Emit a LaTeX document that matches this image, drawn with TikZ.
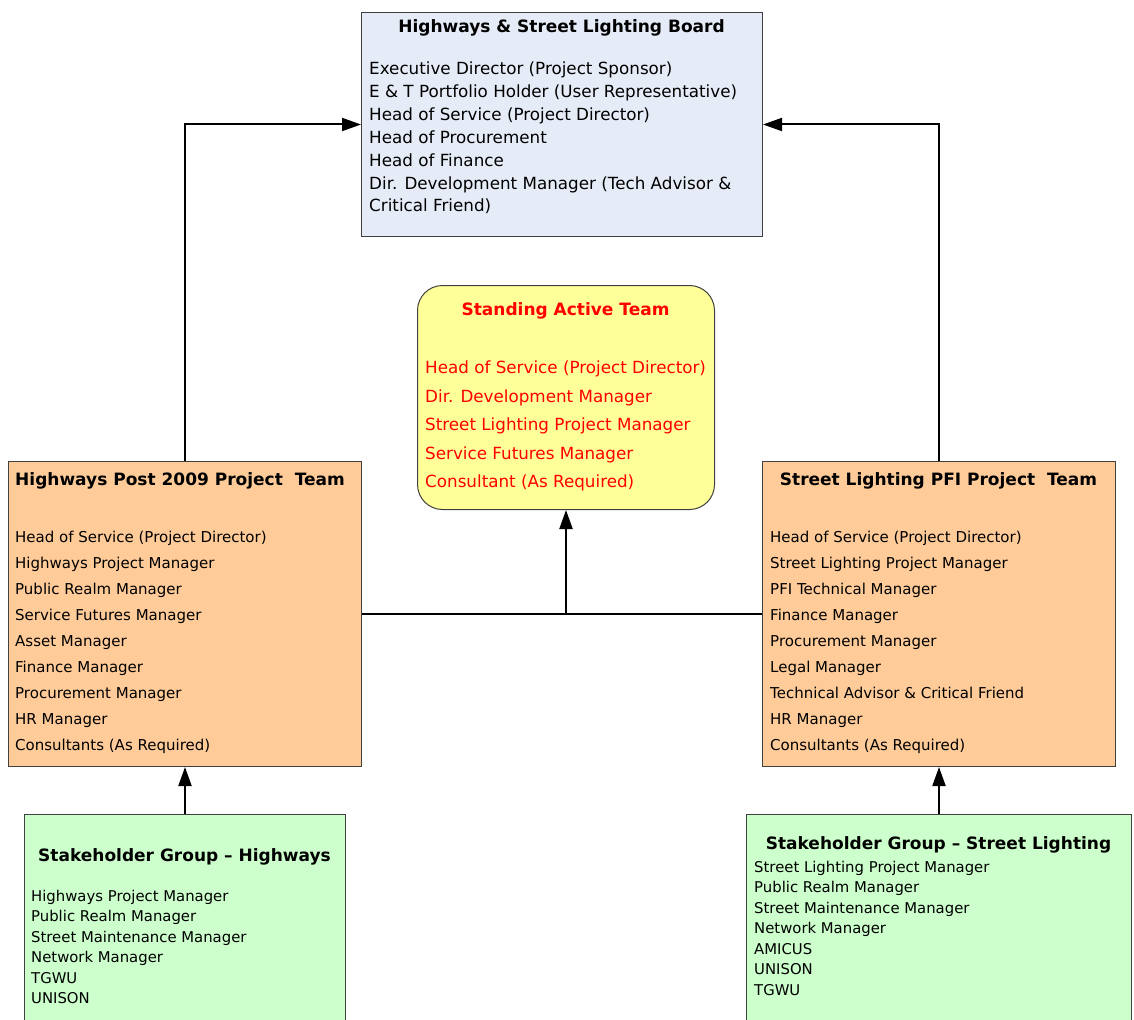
\documentclass[tikz,border=0pt]{standalone}
\usepackage{fontspec}
\setmainfont{DejaVu Sans}
\usepackage{xcolor}
\usetikzlibrary{arrows.meta, positioning}

\definecolor{boardblue}{HTML}{E6ECF7}
\definecolor{teampeach}{HTML}{FFCC99}
\definecolor{activeyellow}{HTML}{FFFF99}
\definecolor{stakegreen}{HTML}{CCFFCC}

\begin{document}
\begin{tikzpicture}[
    x=1pt, y=-1pt,
    box/.style={rectangle, draw=black!75, line width=1pt, anchor=north west, inner sep=0pt},
    heading/.style={inner sep=0pt, font=\fontsize{17}{20}\selectfont\bfseries},
    biglist/.style={align=left, inner sep=0pt, anchor=north west},
    smalllist/.style={align=left, inner sep=0pt, anchor=north west},
    arr/.style={-{Triangle[length=19pt, width=13pt]}, line width=2pt}
]
\useasboundingbox (0,0) rectangle (1134,1019);
\clip (0,0) rectangle (1134,1019);

% boxes
\node[box, fill=boardblue, minimum width=401pt, minimum height=224pt] (board) at (361,12) {};
\node[box, fill=activeyellow, rounded corners=25pt, minimum width=297pt, minimum height=224pt] (active) at (417,285) {};
\node[box, fill=teampeach, minimum width=353pt, minimum height=305pt] (hteam) at (8,461) {};
\node[box, fill=teampeach, minimum width=353pt, minimum height=305pt] (steam) at (762,461) {};
\node[box, fill=stakegreen, minimum width=321pt, minimum height=240pt] (hstake) at (24,814) {};
\node[box, fill=stakegreen, minimum width=385pt, minimum height=240pt] (sstake) at (746,814) {};

% headings
\node[heading] (boardtitle) at (561.5,28) {Highways \& Street Lighting Board};
\node[heading, text=red] (activetitle) at (565.5,311) {Standing Active Team};
\node[heading, anchor=west] (hteamtitle) at (15,481) {Highways Post 2009 Project\ \ Team};
\node[heading] (steamtitle) at (938.5,481) {Street Lighting PFI Project\ \ Team};
\node[heading] (hstaketitle) at (184.5,857) {Stakeholder Group -- Highways};
\node[heading] (sstaketitle) at (938.5,845) {Stakeholder Group -- Street Lighting};

% member lists
\node[biglist, font=\fontsize{16.75}{22.83}\selectfont] (boardlist) at (369,62) {Executive Director (Project Sponsor)\\
E \& T Portfolio Holder (User Representative)\\
Head of Service (Project Director)\\
Head of Procurement\\
Head of Finance\\
Dir. Development Manager (Tech Advisor \&\\
Critical Friend)};
\node[biglist, text=red, font=\fontsize{16.75}{28.5}\selectfont] (activelist) at (425,361) {Head of Service (Project Director)\\
Dir. Development Manager\\
Street Lighting Project Manager\\
Service Futures Manager\\
Consultant (As Required)};
\node[smalllist, font=\fontsize{15}{26}\selectfont] (hteamlist) at (15,531) {Head of Service (Project Director)\\
Highways Project Manager\\
Public Realm Manager\\
Service Futures Manager\\
Asset Manager\\
Finance Manager\\
Procurement Manager\\
HR Manager\\
Consultants (As Required)};
\node[smalllist, font=\fontsize{15}{26}\selectfont] (steamlist) at (770,531) {Head of Service (Project Director)\\
Street Lighting Project Manager\\
PFI Technical Manager\\
Finance Manager\\
Procurement Manager\\
Legal Manager\\
Technical Advisor \& Critical Friend\\
HR Manager\\
Consultants (As Required)};
\node[smalllist, font=\fontsize{14.85}{20.4}\selectfont] (hstakelist) at (31,890) {Highways Project Manager\\
Public Realm Manager\\
Street Maintenance Manager\\
Network Manager\\
TGWU\\
UNISON};
\node[smalllist, font=\fontsize{14.85}{20.5}\selectfont] (sstakelist) at (754,861) {Street Lighting Project Manager\\
Public Realm Manager\\
Street Maintenance Manager\\
Network Manager\\
AMICUS\\
UNISON\\
TGWU};

% connectors
\draw[arr] (hteam.north) |- (board.west);
\draw[arr] (steam.north) |- (board.east);
\draw[line width=2pt] (hteam.east) -- (steam.west);
\draw[arr] (active.south |- hteam.east) -- (active.south);
\draw[arr] (hstake.north) -- (hteam.south);
\draw[arr] (sstake.north) -- (steam.south);
\end{tikzpicture}
\end{document}
